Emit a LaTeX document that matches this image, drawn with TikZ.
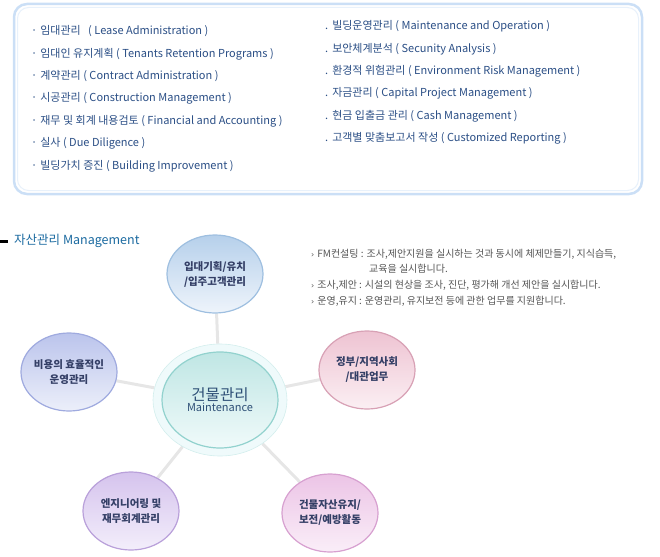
\documentclass[tikz,border=0pt]{standalone}
\usepackage{fontspec}
\setmainfont{Noto Sans CJK KR}
\newfontfamily\symfont{DejaVu Sans}
\usepackage{tikz}
\usetikzlibrary{positioning,shapes.geometric,backgrounds}
\usepackage{xcolor}
\definecolor{mglist}{HTML}{2B4F86}
\definecolor{mghead}{HTML}{1B6AA0}
\definecolor{mgpanel}{HTML}{CBDFF6}
\definecolor{mgdesc}{HTML}{555555}
\definecolor{mglink}{HTML}{E6E6E6}
\definecolor{mgbubtext}{HTML}{343F66}
\definecolor{mgcentertext}{HTML}{2D4F76}
\definecolor{mghalo}{HTML}{EFFAFB}
\definecolor{mgcenterline}{HTML}{92D2CE}
\definecolor{mgcentertop}{HTML}{BFE6E4}
\definecolor{mgcenterbot}{HTML}{F0FAFA}
\definecolor{mgblueline}{HTML}{9EBFE0}
\definecolor{mgbluetop}{HTML}{B6D0EB}
\definecolor{mgbluebot}{HTML}{EEF4FB}
\definecolor{mgperiline}{HTML}{9FAADF}
\definecolor{mgperitop}{HTML}{BBC4EC}
\definecolor{mgperibot}{HTML}{ECEFFA}
\definecolor{mgroseline}{HTML}{D8A1B5}
\definecolor{mgrosetop}{HTML}{EEC3D2}
\definecolor{mgrosebot}{HTML}{FBEFF3}
\definecolor{mgpinkline}{HTML}{D7A0D0}
\definecolor{mgpinktop}{HTML}{ECC4E6}
\definecolor{mgpinkbot}{HTML}{FAEEF8}
\definecolor{mgvioline}{HTML}{B9A0DA}
\definecolor{mgviotop}{HTML}{D5C3ED}
\definecolor{mgviobot}{HTML}{F3EEFB}
\tikzstyle{listitem} = [anchor=west, inner sep=0pt, text height=8pt, text depth=2.5pt, font=\fontsize{11}{12}\selectfont, text=mglist]
\tikzstyle{descline} = [anchor=west, inner sep=0pt, text height=7pt, text depth=2pt, font=\fontsize{10}{11}\selectfont, text=mgdesc]
\tikzstyle{bubble} = [ellipse, minimum width=96pt, minimum height=78pt, inner xsep=-8pt, inner ysep=0pt, align=center, line width=1.2pt, text=mgbubtext, font=\bfseries\fontsize{10.5}{15}\selectfont]
\tikzstyle{link} = [line width=3pt, color=mglink]

\begin{document}
\begin{tikzpicture}[x=1pt, y=-1pt]
\useasboundingbox (0,0) rectangle (660,556);

% service list panel
\draw[mgpanel, line width=2.5pt, fill=white, rounded corners=13pt] (14,4) rectangle (642,194);
\draw[mgpanel!45, line width=1pt, rounded corners=11pt] (17.5,7.5) rectangle (638.5,190.5);

\node[listitem] (l1) at (31,32) {·\hspace{3pt}임대관리\ \ \ ( Lease Administration )};
\node[listitem, below=11.5pt of l1.south west, anchor=north west] (l2) {·\hspace{3pt}임대인 유지계획 ( Tenants Retention Programs )};
\node[listitem, below=11.5pt of l2.south west, anchor=north west] (l3) {·\hspace{3pt}계약관리 ( Contract Administration )};
\node[listitem, below=11.5pt of l3.south west, anchor=north west] (l4) {·\hspace{3pt}시공관리 ( Construction Management )};
\node[listitem, below=11.5pt of l4.south west, anchor=north west] (l5) {·\hspace{3pt}재무 및 회계 내용검토 ( Financial and Accounting )};
\node[listitem, below=11.5pt of l5.south west, anchor=north west] (l6) {·\hspace{3pt}실사 ( Due Diligence )};
\node[listitem, below=11.5pt of l6.south west, anchor=north west] (l7) {·\hspace{3pt}빌딩가치 증진 ( Building Improvement )};

\node[listitem] (r1) at (325,27) {.\hspace{4pt}빌딩운영관리 ( Maintenance and Operation )};
\node[listitem, below=11.5pt of r1.south west, anchor=north west] (r2) {.\hspace{4pt}보안체계분석 ( Secunity Analysis )};
\node[listitem, below=11.5pt of r2.south west, anchor=north west] (r3) {.\hspace{4pt}환경적 위험관리 ( Environment Risk Management )};
\node[listitem, below=11.5pt of r3.south west, anchor=north west] (r4) {.\hspace{4pt}자금관리 ( Capital Project Management )};
\node[listitem, below=11.5pt of r4.south west, anchor=north west] (r5) {.\hspace{4pt}현금 입출금 관리 ( Cash Management )};
\node[listitem, below=11.5pt of r5.south west, anchor=north west] (r6) {.\hspace{4pt}고객별 맞춤보고서 작성 ( Customized Reporting )};

% heading
\fill[black] (0,239.5) rectangle (8,242.5);
\node[anchor=west, inner sep=0pt, text=mghead, font=\fontsize{12.5}{14}\selectfont] (head) at (14,241) {자산관리 Management};

% description
\node[descline] (d1) at (311,255) {{\symfont\fontsize{8}{8}\selectfont ›}\hspace{3pt}FM컨설팅 : 조사,제안지원을 실시하는 것과 동시에 체제만들기, 지식습득,};
\node[descline] (d1b) at (369,270) {교육을 실시합니다.};
\node[descline] (d2) at (311,286) {{\symfont\fontsize{8}{8}\selectfont ›}\hspace{3pt}조사,제안 : 시설의 현상을 조사, 진단, 평가해 개선 제안을 실시합니다.};
\node[descline] (d3) at (311,302) {{\symfont\fontsize{8}{8}\selectfont ›}\hspace{3pt}운영,유지 : 운영관리, 유지보전 등에 관한 업무를 지원합니다.};

% maintenance bubbles
\node[ellipse, minimum width=134pt, minimum height=112pt, fill=mghalo, draw=mghalo!70!mgcenterline, line width=0.6pt] (halo) at (220,400) {};
\node[ellipse, minimum width=116pt, minimum height=96pt, line width=1.2pt, draw=mgcenterline, top color=mgcentertop, bottom color=mgcenterbot, align=center, text=mgcentertext] (center) at (220,400)
  {{\fontsize{15.5}{18}\selectfont 건물관리}\\[-1pt]{\fontsize{11}{13}\selectfont Maintenance}};

\node[bubble, draw=mgblueline, top color=mgbluetop, bottom color=mgbluebot] (plan) at (215,274) {입대기획/유치\\/입주고객관리};
\node[bubble, draw=mgperiline, top color=mgperitop, bottom color=mgperibot] (cost) at (69,372) {비용의 효율적인\\운영관리};
\node[bubble, draw=mgroseline, top color=mgrosetop, bottom color=mgrosebot] (gov) at (367,370) {정부/지역사회\\/대관업무};
\node[bubble, draw=mgvioline, top color=mgviotop, bottom color=mgviobot] (eng) at (131,511) {엔지니어링 및\\재무회계관리};
\node[bubble, draw=mgpinkline, top color=mgpinktop, bottom color=mgpinkbot] (asset) at (330,513) {건물자산유지/\\보전/예방활동};

\begin{scope}[on background layer]
\draw[link] (halo) -- (plan);
\draw[link] (halo) -- (cost);
\draw[link] (halo) -- (gov);
\draw[link] (halo) -- (eng);
\draw[link] (halo) -- (asset);
\end{scope}
\end{tikzpicture}
\end{document}
